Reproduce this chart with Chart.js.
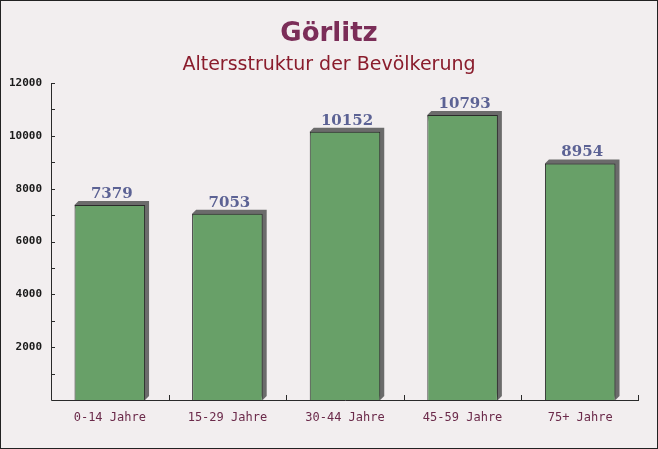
<!DOCTYPE html>
<html>
<head>
<meta charset="utf-8">
<script src="https://cdn.jsdelivr.net/npm/chart.js@4"></script>
<style>
    html, body { margin: 0; padding: 0; background: #f2eeef; }
    #wrap { position: relative; width: 658px; height: 449px; box-sizing: border-box; border: 1px solid #222; }
    canvas { display: block; }
</style>
</head>
<body>
<div id="wrap"><canvas id="chart" width="656" height="447"></canvas></div>
<script>
// Chart data
const categories = ['0-14 Jahre', '15-29 Jahre', '30-44 Jahre', '45-59 Jahre', '75+ Jahre'];
const population = [7379, 7053, 10152, 10793, 8954];
const yTicks = [2000, 4000, 6000, 8000, 10000, 12000];

const titleText = 'Görlitz';
const subtitleText = 'Altersstruktur der Bevölkerung';

// Background, titles, bar shadows, inward ticks and value labels
const decorPlugin = {
    id: 'decor',
    beforeDraw(chart) {
        const ctx = chart.ctx;
        ctx.save();
        ctx.fillStyle = '#f2eeef';
        ctx.fillRect(0, 0, chart.width, chart.height);
        ctx.textAlign = 'center';
        ctx.textBaseline = 'alphabetic';
        ctx.fillStyle = '#7b2d58';
        ctx.font = 'bold 26px "DejaVu Sans"';
        ctx.fillText(titleText, chart.width / 2, 40);
        ctx.fillStyle = '#8a1c2c';
        ctx.font = '19px "DejaVu Sans"';
        ctx.fillText(subtitleText, chart.width / 2, 69);
        ctx.restore();
    },
    beforeDatasetsDraw(chart) {
        const ctx = chart.ctx;
        const meta = chart.getDatasetMeta(0);
        ctx.save();
        ctx.fillStyle = '#6b6b6b';
        meta.data.forEach(bar => {
            const half = bar.width / 2;
            const left = bar.x - half, right = bar.x + half;
            const off = 4;
            ctx.beginPath();
            ctx.moveTo(left, bar.y);
            ctx.lineTo(left + off, bar.y - off);
            ctx.lineTo(right + off, bar.y - off);
            ctx.lineTo(right + off, bar.base - off);
            ctx.lineTo(right, bar.base);
            ctx.closePath();
            ctx.fill();
        });
        ctx.restore();
    },
    afterDatasetsDraw(chart) {
        const ctx = chart.ctx;
        const meta = chart.getDatasetMeta(0);
        const area = chart.chartArea;
        const y = chart.scales.y;
        const x = chart.scales.x;
        ctx.save();
        // value labels
        ctx.fillStyle = '#5c6294';
        ctx.font = 'bold 15px "DejaVu Serif"';
        ctx.textAlign = 'center';
        ctx.textBaseline = 'alphabetic';
        meta.data.forEach((bar, i) => {
            ctx.fillText(String(population[i]), bar.x + 2, bar.y - 7);
        });
        // axes
        ctx.strokeStyle = '#2a2a2a';
        ctx.lineWidth = 1;
        ctx.beginPath();
        ctx.moveTo(area.left + 0.5, area.top);
        ctx.lineTo(area.left + 0.5, area.bottom + 0.5);
        ctx.lineTo(area.right, area.bottom + 0.5);
        // inward y ticks every 1000
        for (let v = 1000; v <= 12000; v += 1000) {
            const py = Math.round(y.getPixelForValue(v)) + 0.5;
            ctx.moveTo(area.left, py);
            ctx.lineTo(area.left + 4, py);
        }
        // inward x ticks at category boundaries
        for (let i = 1; i <= categories.length; i++) {
            const px = i === categories.length
                ? area.right - 0.5
                : Math.round((x.getPixelForValue(i - 1) + x.getPixelForValue(i)) / 2) + 0.5;
            ctx.moveTo(px, area.bottom);
            ctx.lineTo(px, area.bottom - 5);
        }
        ctx.stroke();
        ctx.restore();
    }
};

new Chart(document.getElementById('chart'), {
    type: 'bar',
    data: {
        labels: categories,
        datasets: [{
            data: population,
            backgroundColor: '#68a068',
            borderColor: '#2a2a2a',
            borderWidth: 1,
            barPercentage: 0.6,
            categoryPercentage: 1
        }]
    },
    options: {
        responsive: false,
        animation: false,
        layout: { padding: { top: 82, right: 18, bottom: 0, left: 0 } },
        plugins: {
            legend: { display: false },
            tooltip: { enabled: false }
        },
        scales: {
            x: {
                grid: { display: false, drawTicks: false },
                border: { display: false },
                afterFit: s => { s.height = 48; },
                ticks: {
                    color: '#6b2a4a',
                    padding: 11,
                    font: { family: '"DejaVu Sans Mono"', size: 12 }
                }
            },
            y: {
                min: 0,
                max: 12000,
                afterFit: s => { s.width = 50; },
                afterBuildTicks: s => { s.ticks = yTicks.map(v => ({ value: v })); },
                grid: { display: false, drawTicks: false },
                border: { display: false },
                ticks: {
                    color: '#1a1a1a',
                    padding: 9,
                    callback: v => String(v),
                    font: { family: '"DejaVu Sans Mono"', size: 11, weight: 'bold' }
                }
            }
        }
    },
    plugins: [decorPlugin]
});
</script>
</body>
</html>
